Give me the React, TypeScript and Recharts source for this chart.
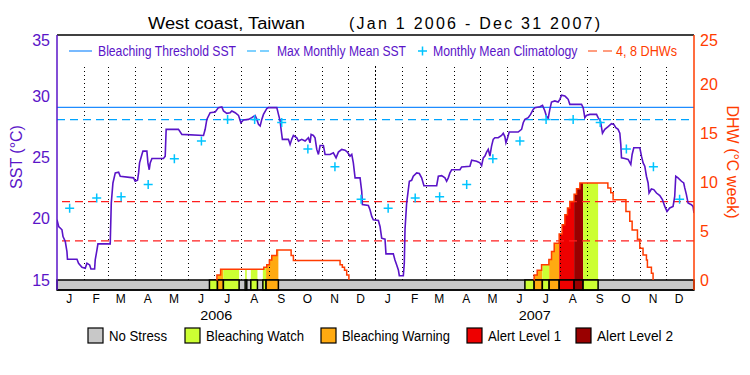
import React from 'react';
import {
  ComposedChart,
  Line,
  Area,
  Scatter,
  XAxis,
  YAxis,
  ReferenceLine,
  ReferenceArea,
} from 'recharts';

// ---- data ----
const monthLetters = ['J', 'F', 'M', 'A', 'M', 'J', 'J', 'A', 'S', 'O', 'N', 'D'];
const monthStarts = [0, 31, 59, 90, 120, 151, 181, 212, 243, 273, 304, 334];
const years = ['2006', '2007'];
const yearTicks = [182.5, 547.5];

// monthly mean climatology (same for both years)
const climatology = [20.85, 21.7, 21.8, 22.8, 24.9, 26.35, 28.1, 28.1, 27.85, 25.7, 24.25, 21.6];
const MAX_MONTHLY_MEAN = 28.1;
const BLEACHING_THRESHOLD = 29.1;
const dhwLevels = [4, 8];

// days since Jan 1 2006
const sstDays = [
  0, 1.9, 5.7, 6.9, 9.5, 11.4, 12, 22.9, 24.7, 28.6, 32.4, 34.3, 37.4, 38.9, 43.1, 43.8, 45.8, 46.9, 61, 62.2,
  64.1, 66.8, 70.6, 72.5, 87.7, 89.6, 92.3, 93.5, 94.6, 97.3, 98.5, 103, 104.2, 105.7, 106.8, 108.8, 122, 124,
  125.1, 139.2, 143.1, 167.9, 169.8, 171.7, 175.5, 181.3, 185, 188.9, 190.8, 194.6, 198.4, 200.4, 204.2, 208,
  210.7, 213.7, 219.4, 223.3, 227, 229, 230.9, 232.8, 234.7, 236.6, 240.4, 242.3, 251.9, 253.8, 255.7, 256.8,
  258.3, 265.2, 267.1, 269, 270.9, 274.8, 276.7, 280.5, 284.3, 288.1, 290, 291.2, 293.8, 295.7, 297.7, 299.6,
  301.5, 305.3, 307.2, 312.9, 316.7, 319.8, 322.5, 326.3, 330.1, 332.8, 335.8, 337.8, 339.6, 341.6, 347.3,
  349.2, 350, 356.8, 358.7, 360.7, 362.5, 368.3, 370.2, 372.1, 375.9, 377, 385.4, 387.3, 389.3, 391.2, 392.3,
  396.9, 398, 398.8, 400.7, 403.8, 406.4, 408.3, 412.2, 415.2, 417.9, 420.5, 435.1, 437, 440.8, 444.6, 446.5,
  448.4, 450.3, 452.3, 461.8, 463.7, 473.2, 475.2, 480.9, 484.7, 486.6, 488.5, 490.4, 492.3, 494.2, 496.1, 498,
  499.9, 501.8, 505.6, 509.5, 511.4, 513.3, 514.5, 515.9, 518.2, 528.5, 532.4, 534.3, 536.2, 540, 542.7, 545.7,
  547.6, 553.4, 556.4, 559.1, 561, 562.9, 564.8, 566.7, 570.5, 574.3, 576.3, 578.2, 582, 583.9, 585.8, 587.7,
  601.1, 603, 604.9, 606.8, 610.6, 618.3, 620.1, 622.8, 625.1, 627.8, 631.6, 635.4, 638.1, 640.4, 643, 645,
  646.1, 646.9, 650.7, 654.5, 657.6, 659.1, 661, 667.9, 669.8, 671.7, 673.6, 675.5, 677.4, 678.5, 681.2, 683.9,
  687, 690.8, 693.8, 696.5, 699.1, 702.2, 706, 707.9, 709.1, 711.7, 715.6, 718.2, 719.4, 721.3, 723.2, 727,
  728.9, 730,
];
const sstValues = [
  19.92, 19.37, 19.1, 18.55, 18.14, 17.32, 16.69, 16.69, 16.37, 16.04, 15.96, 16.37, 16.23, 15.9, 15.9, 16.64,
  17.46, 17.95, 17.95, 21.28, 22.92, 23.74, 23.8, 23.47, 23.34, 23.06, 23.14, 23.74, 24.56, 25.25, 25.52, 25.52,
  24.56, 24.0, 24.56, 24.92, 24.92, 25.1, 27.3, 27.3, 26.89, 26.8, 27.3, 28.11, 28.66, 28.71, 29.07, 29.13, 28.8,
  28.6, 28.66, 28.8, 28.66, 28.44, 27.84, 28.06, 28.11, 28.25, 28.44, 28.11, 27.7, 27.57, 28.11, 28.52, 28.99,
  29.07, 29.07, 28.52, 27.98, 27.3, 26.48, 26.48, 26.07, 26.48, 26.8, 26.61, 26.34, 26.48, 26.34, 26.61, 26.2,
  26.89, 26.8, 26.61, 25.66, 25.25, 25.98, 25.98, 25.25, 25.25, 25.38, 24.97, 25.44, 25.66, 25.6, 25.44, 25.11,
  25.25, 24.56, 23.34, 23.34, 22.24, 21.15, 21.09, 20.74, 20.19, 19.92, 19.86, 19.37, 18.41, 18.33, 17.13, 17.13,
  16.64, 16.23, 15.82, 15.35, 15.35, 16.37, 19.1, 21.28, 23.06, 23.14, 23.47, 23.74, 23.69, 23.34, 22.7, 22.7,
  23.47, 23.52, 23.34, 23.06, 23.34, 23.74, 24.0, 24.0, 24.23, 24.29, 24.78, 24.7, 24.56, 24.34, 24.97, 25.11,
  25.44, 25.66, 25.11, 25.93, 26.48, 26.61, 26.61, 26.8, 26.98, 26.69, 26.2, 26.48, 27.08, 27.08, 27.3, 27.84,
  28.11, 28.25, 28.52, 28.93, 29.07, 29.15, 29.26, 28.8, 28.34, 28.2, 28.93, 29.53, 29.62, 29.53, 29.75, 30.08,
  30.03, 29.89, 29.75, 29.34, 29.34, 29.07, 28.25, 28.44, 28.52, 28.52, 28.25, 27.98, 26.98, 27.3, 27.52, 27.76,
  27.7, 27.43, 27.3, 26.98, 26.07, 24.97, 24.92, 24.84, 24.43, 25.25, 25.8, 25.8, 25.11, 24.56, 24.29, 23.47,
  22.92, 22.1, 22.43, 22.38, 22.1, 21.89, 21.56, 21.01, 20.6, 20.88, 21.01, 21.83, 23.47, 23.34, 23.06, 22.92,
  22.52, 21.97, 21.28, 21.15, 21.01, 20.46,
];

// degree heating weeks, step values (value holds until next day)
const dhw2006Days = [183, 183.3, 187.5, 237, 240.4, 243.4, 246.1, 251.9, 268.3, 270.9, 324.4, 327, 329.5, 332, 334.5];
const dhw2006Values = [0, 0.5, 1.1, 1.3, 1.55, 2.05, 2.5, 3.05, 2.5, 2.0, 1.55, 1.3, 1.0, 0.5, 0];
const dhw2007Days = [
  546.5, 546.8, 550.3, 555.3, 563.7, 566.7, 569.8, 575.5, 578.9, 582, 585, 587.7, 592.6, 595.4, 599.2, 631.3,
  634.6, 637.3, 652, 656.4, 659.1, 665.2, 667.9, 671.6, 675.5, 676.6, 681.2, 683.1,
];
const dhw2007Values = [
  0, 0.5, 1.0, 1.55, 2.1, 2.9, 3.75, 4.7, 5.65, 6.65, 7.35, 8.0, 8.75, 9.3, 9.9, 9.4, 8.9, 8.2, 7.0, 6.0, 5.1,
  4.15, 3.25, 2.55, 2.05, 1.3, 0.7, 0,
];

// bleaching alert status periods (0 no stress .. 4 alert level 2)
const statusStart = [174.7, 183.9, 190.7, 215.6, 222.1, 235.9, 239.6, 536.2, 546.8, 556.2, 564, 575.5, 592.6, 602.9];
const statusEnd = [183.9, 190.7, 208.7, 217.5, 229.7, 239.6, 253.7, 546.8, 556.2, 564, 575.5, 592.6, 602.9, 620.1];
const statusLevel = [1, 2, 1, 1, 1, 1, 2, 1, 2, 1, 2, 3, 4, 1];
const statusNames = ['No Stress', 'Bleaching Watch', 'Bleaching Warning', 'Alert Level 1', 'Alert Level 2'];

// ---- style ----
const FONT = '"Liberation Sans", Arial, sans-serif';
const PURPLE = '#5a14c8';
const THRESH_BLUE = '#1e8cff';
const MMM_BLUE = '#00a4ff';
const CROSS_CYAN = '#00c4ff';
const DHW_RED = '#ff3c00';
const DASH_RED = '#ff1e1e';
const statusColors = ['#c8c8c8', '#ccff33', '#ffaa11', '#ee0000', '#990000'];

// the plot extends 10px below SST 15 / DHW 0 for the status bar
const SST_MIN = 15 - 20 * 10 / 245;
const DHW_MIN = -25 * 10 / 245;
const GRID_TOP = 32.6;

const allMonthStarts = [...monthStarts, ...monthStarts.map((d) => d + 365)];
const monthTicks = allMonthStarts.map((d) => d + 14);
const gridDays = allMonthStarts.slice(1);
const sstMajor = [15, 20, 25, 30, 35];
const sstMinor = Array.from({ length: 19 }, (_, i) => 16 + i).filter((v) => v % 5 !== 0);
const dhwMajor = [0, 5, 10, 15, 20, 25];
const dhwMinor = Array.from({ length: 24 }, (_, i) => 1 + i).filter((v) => v % 5 !== 0);

const sstData = sstDays.map((day, i) => ({ day, sst: sstValues[i] }));
const climData = allMonthStarts.map((d, i) => ({ day: d + 14.5, clim: climatology[i % 12] }));
const dhw2006 = dhw2006Days.map((day, i) => ({ day, dhw: dhw2006Values[i] }));
const dhw2007 = dhw2007Days.map((day, i) => ({ day, dhw: dhw2007Values[i] }));
const dhwSteps = [...dhw2006, ...dhw2007];

const dhwAt = (t: number) => {
  let v = 0;
  dhwSteps.forEach((p) => {
    if (p.day <= t) v = p.dhw;
  });
  return v;
};

// area under the DHW curve, coloured by the alert status of each period
const fillSegments = statusStart.map((s, i) => {
  const e = statusEnd[i];
  const inner = dhwSteps.filter((p) => p.day > s && p.day < e).map((p) => ({ day: p.day, fill: p.dhw }));
  return {
    level: statusLevel[i],
    pts: [{ day: s, fill: dhwAt(s) }, ...inner, { day: e, fill: dhwAt(e - 0.001) }],
  };
});

const Cross = (props: any) => {
  const { cx, cy } = props;
  if (cx == null || cy == null) return null;
  return (
    <path
      d={`M${cx - 4.5},${cy}H${cx + 4.5}M${cx},${cy - 4.5}V${cy + 4.5}`}
      stroke={CROSS_CYAN}
      strokeWidth={1.5}
      fill="none"
    />
  );
};

const SstTick = ({ x, y, payload }: any) => (
  <text x={x} y={y + (payload.value === 35 ? 5 : 0)} dy={5.7} textAnchor="end" fill={PURPLE} fontSize={16} fontFamily={FONT}>
    {payload.value}
  </text>
);

const DhwTick = ({ x, y, payload }: any) => (
  <text x={x} y={y + (payload.value === 25 ? 5 : 0)} dy={5.7} textAnchor="start" fill={DHW_RED} fontSize={16} fontFamily={FONT}>
    {payload.value}
  </text>
);

// month letters, plus the year under the middle of each year
const TimeTick = ({ x, y, payload }: any) => {
  const yi = yearTicks.indexOf(payload.value);
  if (yi >= 0) {
    return (
      <text x={x} y={y} dy={25.5} textAnchor="middle" fill="#000" fontSize={13} fontFamily={FONT}
        textLength={32} lengthAdjust="spacingAndGlyphs">
        {years[yi]}
      </text>
    );
  }
  const mi = monthTicks.indexOf(payload.value);
  return (
    <text x={x} y={y} dy={8.8} textAnchor="middle" fill="#000" fontSize={12} fontFamily={FONT}>
      {monthLetters[mi % 12]}
    </text>
  );
};

// legend positions (layout only)
const legendBoxX = [88, 185, 321, 467, 576];
const legendTextW = [58, 98, 108, 73, 76];

export default function App() {
  return (
    <div style={{ position: 'absolute', left: 0, top: 0, width: 750, height: 375, background: '#fff', fontFamily: FONT }}>
      <ComposedChart width={750} height={375} margin={{ top: 35, right: 26, bottom: 45, left: 17 }}>
        <XAxis
          dataKey="day"
          type="number"
          domain={[0, 730]}
          allowDataOverflow
          ticks={[...monthTicks, ...yearTicks]}
          interval={0}
          tick={<TimeTick />}
          tickLine={false}
          tickSize={0}
          tickMargin={4}
          axisLine={{ stroke: '#000', strokeWidth: 1.5 }}
          height={40}
        />

        <YAxis yAxisId="sstMinor" type="number" domain={[SST_MIN, 35]} allowDataOverflow ticks={sstMinor} interval={0}
          width={0} tick={false} tickSize={-6} tickLine={{ stroke: PURPLE }} axisLine={false} />
        <YAxis yAxisId="sstMajor" type="number" domain={[SST_MIN, 35]} allowDataOverflow ticks={sstMajor} interval={0}
          width={0} tick={false} tickSize={-13} tickLine={{ stroke: PURPLE }} axisLine={false} />
        <YAxis yAxisId="sst" type="number" domain={[SST_MIN, 35]} allowDataOverflow ticks={sstMajor} interval={0}
          width={40} tick={<SstTick />} tickSize={0} tickMargin={7} tickLine={false} axisLine={{ stroke: PURPLE, strokeWidth: 1.5 }} />

        <YAxis yAxisId="dhwMinor" orientation="right" type="number" domain={[DHW_MIN, 25]} allowDataOverflow ticks={dhwMinor}
          interval={0} width={0} tick={false} tickSize={-5} tickLine={{ stroke: DHW_RED }} axisLine={false} />
        <YAxis yAxisId="dhwMajor" orientation="right" type="number" domain={[DHW_MIN, 25]} allowDataOverflow ticks={dhwMajor}
          interval={0} width={0} tick={false} tickSize={-13} tickLine={{ stroke: DHW_RED }} axisLine={false} />
        <YAxis yAxisId="dhw" orientation="right" type="number" domain={[DHW_MIN, 25]} allowDataOverflow ticks={dhwMajor}
          interval={0} width={30} tick={<DhwTick />} tickSize={0} tickMargin={6} tickLine={false}
          axisLine={{ stroke: DHW_RED, strokeWidth: 1.5 }} />

        {/* frame top */}
        <ReferenceLine yAxisId="sst" y={35} stroke="#000" strokeWidth={1.5} />

        {/* monthly dotted lines */}
        {gridDays.map((d) => (
          <ReferenceLine
            key={`g${d}`}
            yAxisId="sst"
            segment={[{ x: d, y: 15 }, { x: d, y: GRID_TOP }]}
            stroke="#000"
            strokeWidth={1}
            shapeRendering="crispEdges"
            strokeDasharray={d === 365 ? '2 2' : '1 3'}
          />
        ))}

        {/* DHW fill by alert level */}
        {fillSegments.map((seg, i) => (
          <Area
            key={`f${i}`}
            yAxisId="dhw"
            data={seg.pts}
            dataKey="fill"
            type="stepAfter"
            stroke="none"
            fill={statusColors[seg.level]}
            fillOpacity={1}
            baseValue={0}
            dot={false}
            activeDot={false}
            isAnimationActive={false}
          />
        ))}

        <ReferenceLine yAxisId="sst" y={BLEACHING_THRESHOLD} stroke={THRESH_BLUE} strokeWidth={1.2} />
        <ReferenceLine yAxisId="sst" y={MAX_MONTHLY_MEAN} stroke={MMM_BLUE} strokeWidth={1.2} strokeDasharray="8 5" />
        {dhwLevels.map((v) => (
          <ReferenceLine key={`d${v}`} yAxisId="dhw" y={v} stroke={DASH_RED} strokeWidth={1.2} strokeDasharray="8 5" />
        ))}

        {/* status bar */}
        <ReferenceArea yAxisId="sst" x1={0} x2={730} y1={SST_MIN} y2={15} fill={statusColors[0]} fillOpacity={1}
          stroke="#000" strokeWidth={1.5} />
        {statusStart.map((s, i) => (
          <ReferenceArea
            key={`s${i}`}
            yAxisId="sst"
            x1={s}
            x2={statusEnd[i]}
            y1={SST_MIN}
            y2={15}
            fill={statusColors[statusLevel[i]]}
            fillOpacity={1}
            stroke="#000"
            strokeWidth={1.5}
          />
        ))}

        <Line yAxisId="dhw" data={dhw2006} dataKey="dhw" type="stepAfter" stroke={DHW_RED} strokeWidth={1.5}
          dot={false} activeDot={false} isAnimationActive={false} />
        <Line yAxisId="dhw" data={dhw2007} dataKey="dhw" type="stepAfter" stroke={DHW_RED} strokeWidth={1.5}
          dot={false} activeDot={false} isAnimationActive={false} />
        <Line yAxisId="sst" data={sstData} dataKey="sst" type="linear" stroke={PURPLE} strokeWidth={1.6}
          dot={false} activeDot={false} isAnimationActive={false} />
        <Scatter yAxisId="sst" data={climData} dataKey="clim" shape={<Cross />} isAnimationActive={false} />
      </ComposedChart>

      <svg width={750} height={375} style={{ position: 'absolute', left: 0, top: 0, pointerEvents: 'none' }} fontFamily={FONT}>
        {/* title */}
        <text x={148} y={28.5} fontSize={16} fill="#000" textLength={157} lengthAdjust="spacingAndGlyphs">
          West coast, Taiwan
        </text>
        <text x={349} y={28.5} fontSize={16} fill="#000" textLength={251} lengthAdjust="spacing">
          (Jan 1 2006 - Dec 31 2007)
        </text>

        {/* axis titles */}
        <text transform="translate(22,157) rotate(-90)" textAnchor="middle" fontSize={16} fill={PURPLE}>
          SST (°C)
        </text>
        <text transform="translate(727,162) rotate(90)" textAnchor="middle" fontSize={16} fill={DHW_RED}>
          DHW (°C week)
        </text>

        {/* top legend */}
        <line x1={69} x2={92} y1={51} y2={51} stroke={THRESH_BLUE} strokeWidth={1.2} />
        <text x={98} y={55.7} fontSize={14} fill={PURPLE} textLength={138} lengthAdjust="spacingAndGlyphs">
          Bleaching Threshold SST
        </text>
        <line x1={247} x2={269} y1={51} y2={51} stroke={MMM_BLUE} strokeWidth={1.2} strokeDasharray="9 4" />
        <text x={277} y={55.7} fontSize={14} fill={PURPLE} textLength={129} lengthAdjust="spacingAndGlyphs">
          Max Monthly Mean SST
        </text>
        <Cross cx={422.5} cy={51} />
        <text x={433} y={55.7} fontSize={14} fill={PURPLE} textLength={144.5} lengthAdjust="spacingAndGlyphs">
          Monthly Mean Climatology
        </text>
        <line x1={588} x2={612} y1={51} y2={51} stroke={DHW_RED} strokeWidth={1.2} strokeDasharray="9 6" />
        <text x={616} y={55.7} fontSize={14} fill={DHW_RED} textLength={61} lengthAdjust="spacingAndGlyphs">
          4, 8 DHWs
        </text>

        {/* bottom legend */}
        {statusNames.map((name, i) => (
          <g key={name}>
            <rect x={legendBoxX[i]} y={328} width={15} height={15} fill={statusColors[i]} stroke="#000" strokeWidth={1.2} />
            <text x={legendBoxX[i] + 21} y={341} fontSize={14} fill="#000" textLength={legendTextW[i]}
              lengthAdjust="spacingAndGlyphs">
              {name}
            </text>
          </g>
        ))}
      </svg>
    </div>
  );
}
